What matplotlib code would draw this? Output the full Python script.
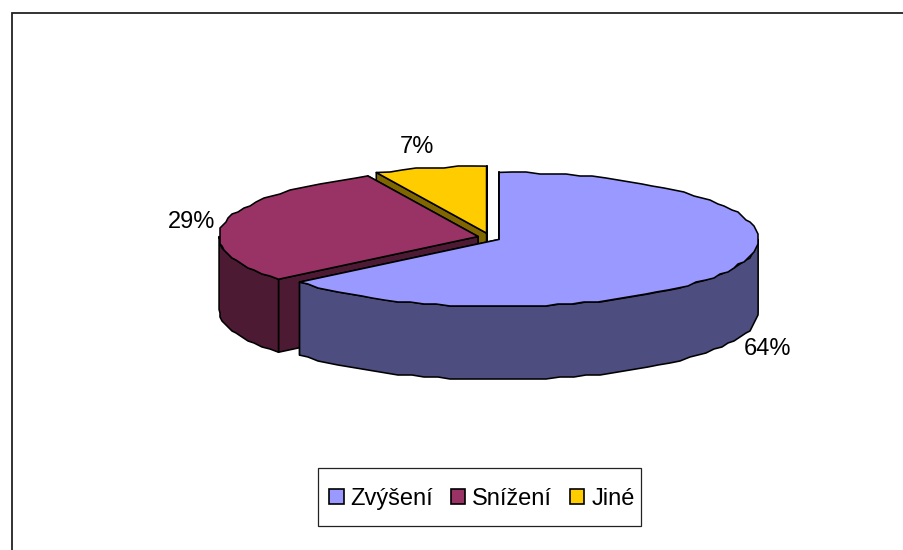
# -*- coding: utf-8 -*-
"""
Exploded 3D pie chart, drawn by hand with polygons since matplotlib has no 3D pie.
Axes are in pixels of the figure (y going down).
"""
import numpy as np
import matplotlib.pyplot as plt
from matplotlib.patches import Polygon, Patch, Rectangle

#===================== DATA ==========================
labels = ['Zvýšení', 'Snížení', 'Jiné']
values = [64, 29, 7]
#===================== STYLE ==========================
topColors = ['#9999FF', '#993366', '#FFCC00']
sideColors = ['#4D4D80', '#4D1A33', '#806600']
labelPos = [(768, 349), (192, 222), (416.5, 147)]
cx, cy = 489, 237.5   # pie centre
rx, ry = 259, 67      # top ellipse radii
depth = 73            # height of the pie
explode = 11.2
stepDeg = 3           # outline step
snap = 2              # outline points sit on a coarse grid, gives the wobbly edge
lw = 1.15

plt.rcParams['font.family'] = ['Liberation Sans', 'DejaVu Sans']
fontSize = 17

fig = plt.figure(figsize=(9.04, 5.5), dpi=100)
ax = fig.add_axes([0, 0, 1, 1])
ax.set_xlim(0, 904)
ax.set_ylim(550, 0)
ax.axis('off')

# chart frame, only top and left are inside the picture
ax.plot([12, 12, 904], [550, 13, 13], color='#222222', lw=1.3, solid_joinstyle='miter')


def rim(x0, y0, a, b):
    # points of the ellipse between clockwise angles a and b (deg from 12 o'clock)
    n = max(int(abs(b - a) / stepDeg), 1) + 1
    t = np.radians(np.linspace(a, b, n))
    pts = np.column_stack((x0 + rx * np.sin(t), y0 - ry * np.cos(t)))
    pts[1:-1] = np.round(pts[1:-1] / snap) * snap
    return pts


def add(pts, color, z):
    ax.add_patch(Polygon(pts, closed=True, facecolor=color, edgecolor='black',
                         lw=lw, joinstyle='round', zorder=z))


fractions = np.array(values) / sum(values) * 360
ends = np.cumsum(fractions)
starts = ends - fractions
down = np.array([0, depth])

# back to front: last slice first
for i in [2, 1, 0]:
    a, b = starts[i], ends[i]
    mid = np.radians((a + b) / 2)
    x0 = cx + explode * np.sin(mid)
    y0 = cy - explode * 0.4 * np.cos(mid)
    z = 10 - i * 3
    tip = np.array([x0, y0])
    edge = rim(x0, y0, a, b)

    # cut faces, the one at the start of the slice is the visible one
    for p in (edge[-1], edge[0]):
        add([tip, p, p + down, tip + down], sideColors[i], z)

    # outer wall, only the front half of the ellipse shows
    lo, hi = max(a, 90), min(b, 270)
    if lo < hi:
        wall = rim(x0, y0, lo, hi)
        add(np.vstack((wall, wall[::-1] + down)), sideColors[i], z + 0.1)

    add(np.vstack((tip, edge)), topColors[i], z + 0.2)

for v, (tx, ty) in zip(values, labelPos):
    ax.text(tx, ty, f'{v}%', ha='center', va='center', fontsize=fontSize, color='black')

# legend box drawn apart, it is tighter than the legend padding allows
ax.add_patch(Rectangle((318, 468), 323, 58, facecolor='white', edgecolor='#222222', lw=0.9, zorder=20))
handles = [Patch(facecolor=c, edgecolor='black', lw=1.2, label=l)
           for c, l in zip(topColors, labels)]
leg = ax.legend(handles=handles, ncol=3, loc='center', bbox_to_anchor=(482, 499),
                bbox_transform=ax.transData, fontsize=fontSize, frameon=False,
                handlelength=0.6, handleheight=0.6, handletextpad=0.3,
                columnspacing=0.75, borderpad=0, borderaxespad=0)
leg.set_zorder(21)

fig.savefig('out.png', dpi=100)
